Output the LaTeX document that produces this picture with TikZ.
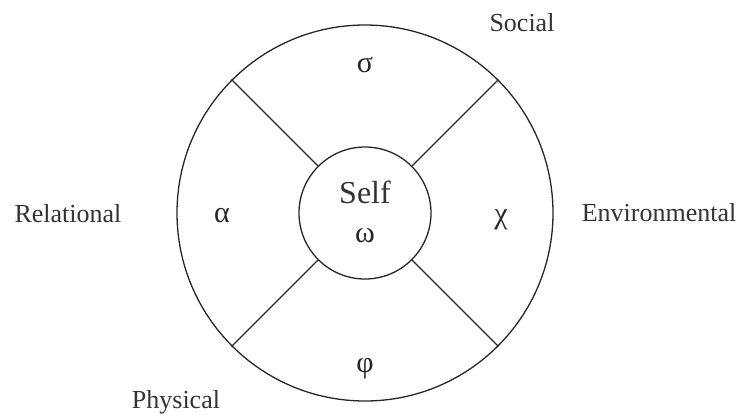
\documentclass[tikz,border=0pt]{standalone}
\usepackage{fontspec}
\setmainfont{Liberation Serif}
\usepackage{tikz}
\usetikzlibrary{positioning}

\begin{document}
\begin{tikzpicture}[x=1pt,y=-1pt,font=\fontsize{26}{30}\selectfont]
\tikzset{
  ring/.style={draw=black!85,circle,line width=1.3pt,inner sep=0pt},
  lbl/.style={anchor=base,text=black!80,inner sep=0pt},
  grk/.style={anchor=center,text=black!85,inner sep=0pt,font=\fontsize{30}{34}\selectfont},
  spoke/.style={draw=black!85,line width=1.2pt}
}
\useasboundingbox(0,0)rectangle(741,415);
\node(outer)[ring,minimum size=376pt]at(365,213){};
\node(self)[ring,minimum size=132pt]at(365,213){};
\node(selft)[lbl,font=\fontsize{32}{36}\selectfont]at(365,203){Self};
\node(om)[grk]at(365,236){ω};
\node(sig)[grk]at(365,65){σ};
\node(alp)[grk]at(222,216){α};
\node(chi)[grk]at(501,220){χ};
\node(phi)[grk]at(365,369){φ};
\node(soc)[lbl]at(522,31){Social};
\node(rel)[lbl]at(68,222){Relational};
\node(env)[lbl]at(659,221){Environmental};
\node(phy)[lbl]at(176,408){Physical};
\draw[spoke](self.45)--(outer.45); \draw[spoke](self.135)--(outer.135);
\draw[spoke](self.225)--(outer.225); \draw[spoke](self.315)--(outer.315);
\end{tikzpicture}
\end{document}
